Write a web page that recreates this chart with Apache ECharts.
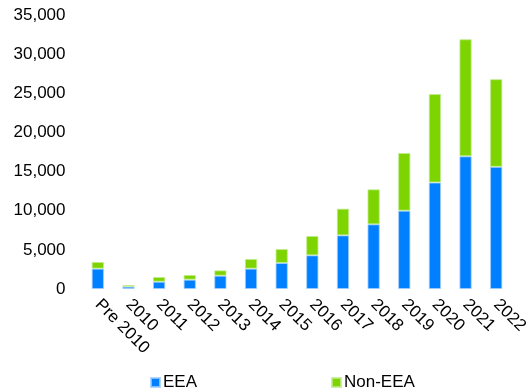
<!DOCTYPE html>
<html>
<head>
<meta charset="utf-8">
<script src="https://cdn.jsdelivr.net/npm/echarts@6/dist/echarts.min.js"></script>
<style>html,body{margin:0;padding:0;background:#fff}#c{width:531px;height:391px}</style>
</head>
<body>
<div id="c"></div>
<script>
const categories = ['Pre 2010','2010','2011','2012','2013','2014','2015','2016','2017','2018','2019','2020','2021','2022'];
const eea    = [2600, 300, 930, 1190, 1700, 2600, 3320, 4300, 6850, 8260, 10000, 13600, 16950, 15600];
const nonEea = [850, 200, 600, 600, 680, 1230, 1780, 2470, 3410, 4470, 7370, 11300, 14950, 11200];
const yTicks = [0, 5000, 10000, 15000, 20000, 25000, 30000, 35000];

const font = 'Liberation Sans, Arial, sans-serif';
const chart = echarts.init(document.getElementById('c'), null, {renderer: 'canvas'});
chart.setOption({
  animation: false,
  backgroundColor: '#fff',
  textStyle: {fontFamily: font},
  grid: {left: 82.5, right: 17.5, top: 15, bottom: 102, containLabel: false},
  legend: {
    data: ['EEA', 'Non-EEA'],
    left: 145, top: 369,
    icon: 'rect', itemWidth: 9, itemHeight: 9, itemGap: 134,
    textStyle: {fontFamily: font, fontSize: 17, color: '#000', padding: [0,0,0,-2]}
  },
  xAxis: {
    type: 'category',
    data: categories,
    axisLine: {show: false},
    axisTick: {show: false},
    axisLabel: {interval: 0, rotate: -45, fontSize: 17, color: '#000', fontFamily: font, margin: 13}
  },
  yAxis: {
    type: 'value',
    min: yTicks[0], max: yTicks[yTicks.length - 1], interval: 5000,
    splitLine: {show: false},
    axisLine: {show: false},
    axisTick: {show: false},
    axisLabel: {fontSize: 17, color: '#000', fontFamily: font, margin: 17,
      formatter: v => v.toLocaleString('en-US')}
  },
  series: [
    {name: 'EEA', type: 'bar', stack: 't', data: eea, barWidth: '40%',
     itemStyle: {color: '#007FFF', borderColor: 'rgba(160,205,255,0.8)', borderWidth: 1}},
    {name: 'Non-EEA', type: 'bar', stack: 't', data: nonEea, barWidth: '40%',
     itemStyle: {color: '#7ED400', borderColor: 'rgba(190,235,140,0.8)', borderWidth: 1}}
  ]
});
</script>
</body>
</html>
